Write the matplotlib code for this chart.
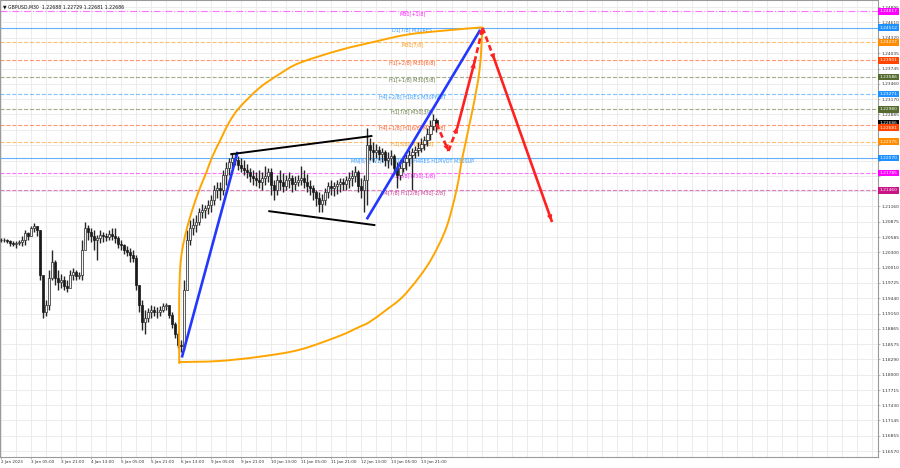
import matplotlib
matplotlib.use("Agg")
import matplotlib.pyplot as plt
import matplotlib.transforms as mtransforms
from matplotlib.path import Path
from matplotlib.patches import PathPatch
import numpy as np

# GBPUSD M30, one candle slot = ~3.2 bars of 30 min
high = [1.2057, 1.2057, 1.2055, 1.2053, 1.2051, 1.2051, 1.2053, 1.2060, 1.2072, 1.2068,
        1.2079, 1.2085, 1.2079, 1.2072, 1.1978, 1.1940, 1.1997, 1.2034, 1.2015, 1.1997,
        1.1989, 1.1985, 1.1978, 1.1997, 1.2000, 1.1997, 1.1993, 1.2053, 1.2087, 1.2081,
        1.2075, 1.2072, 1.2062, 1.2072, 1.2068, 1.2066, 1.2072, 1.2075, 1.2075, 1.2060,
        1.2053, 1.2045, 1.2042, 1.2038, 1.2034, 1.2025, 1.1969, 1.1940, 1.1922, 1.1925,
        1.1931, 1.1929, 1.1927, 1.1929, 1.1935, 1.1935, 1.1931, 1.1918, 1.1899, 1.1880,
        1.1865, 1.1978, 1.2072, 1.2091, 1.2094, 1.2100, 1.2113, 1.2121, 1.2119, 1.2128,
        1.2137, 1.2156, 1.2162, 1.2162, 1.2184, 1.2199, 1.2207, 1.2214, 1.2216, 1.2211,
        1.2207, 1.2203, 1.2196, 1.2188, 1.2184, 1.2181, 1.2184, 1.2181, 1.2192, 1.2188,
        1.2188, 1.2166, 1.2175, 1.2184, 1.2179, 1.2175, 1.2181, 1.2175, 1.2173, 1.2175,
        1.2192, 1.2184, 1.2177, 1.2166, 1.2156, 1.2147, 1.2143, 1.2139, 1.2151, 1.2162,
        1.2166, 1.2162, 1.2166, 1.2169, 1.2169, 1.2173, 1.2181, 1.2184, 1.2192, 1.2184,
        1.2169, 1.2175, 1.2263, 1.2244, 1.2237, 1.2233, 1.2229, 1.2226, 1.2222, 1.2218,
        1.2222, 1.2214, 1.2199, 1.2203, 1.2211, 1.2214, 1.2222, 1.2226, 1.2229, 1.2237,
        1.2244, 1.2248, 1.2263, 1.2278, 1.2289, 1.2282]
low = [1.2049, 1.2049, 1.2047, 1.2042, 1.2042, 1.2038, 1.2044, 1.2042, 1.2044, 1.2053,
       1.2060, 1.2068, 1.2060, 1.1978, 1.1907, 1.1910, 1.1922, 1.1978, 1.1969, 1.1959,
       1.1963, 1.1959, 1.1955, 1.1970, 1.1978, 1.1978, 1.1980, 1.1978, 1.2044, 1.2053,
       1.2049, 1.2034, 1.2015, 1.2047, 1.2049, 1.2051, 1.2053, 1.2053, 1.2047, 1.2038,
       1.2034, 1.2027, 1.2023, 1.2012, 1.2012, 1.1959, 1.1918, 1.1884, 1.1877, 1.1899,
       1.1907, 1.1910, 1.1907, 1.1910, 1.1918, 1.1922, 1.1907, 1.1888, 1.1869, 1.1850,
       1.1843, 1.1847, 1.1959, 1.2044, 1.2062, 1.2068, 1.2081, 1.2094, 1.2094, 1.2102,
       1.2106, 1.2119, 1.2132, 1.2128, 1.2137, 1.2156, 1.2175, 1.2188, 1.2194, 1.2184,
       1.2181, 1.2175, 1.2169, 1.2162, 1.2156, 1.2154, 1.2151, 1.2147, 1.2156, 1.2162,
       1.2137, 1.2128, 1.2137, 1.2147, 1.2143, 1.2147, 1.2151, 1.2143, 1.2147, 1.2154,
       1.2156, 1.2151, 1.2143, 1.2137, 1.2128, 1.2117, 1.2106, 1.2106, 1.2119, 1.2132,
       1.2137, 1.2136, 1.2139, 1.2143, 1.2147, 1.2147, 1.2151, 1.2154, 1.2162, 1.2143,
       1.2132, 1.2106, 1.2119, 1.2203, 1.2199, 1.2207, 1.2203, 1.2199, 1.2192, 1.2188,
       1.2194, 1.2181, 1.2151, 1.2166, 1.2181, 1.2184, 1.2192, 1.2147, 1.2207, 1.2211,
       1.2218, 1.2222, 1.2229, 1.2241, 1.2259, 1.2256]
close = [1.2053, 1.2053, 1.2051, 1.2047, 1.2045, 1.2047, 1.2049, 1.2053, 1.2066, 1.2060,
         1.2075, 1.2079, 1.2072, 1.1987, 1.1918, 1.1931, 1.1982, 1.2012, 1.1982, 1.1974,
         1.1978, 1.1967, 1.1963, 1.1987, 1.1993, 1.1985, 1.1987, 1.2034, 1.2075, 1.2068,
         1.2060, 1.2053, 1.2057, 1.2062, 1.2060, 1.2058, 1.2064, 1.2060, 1.2057, 1.2045,
         1.2044, 1.2034, 1.2030, 1.2025, 1.2019, 1.1969, 1.1931, 1.1899, 1.1907, 1.1918,
         1.1922, 1.1918, 1.1918, 1.1922, 1.1929, 1.1931, 1.1912, 1.1895, 1.1877, 1.1856,
         1.1854, 1.1959, 1.2053, 1.2075, 1.2081, 1.2087, 1.2106, 1.2109, 1.2113, 1.2119,
         1.2128, 1.2147, 1.2151, 1.2147, 1.2175, 1.2188, 1.2199, 1.2207, 1.2203, 1.2194,
         1.2188, 1.2184, 1.2181, 1.2173, 1.2169, 1.2166, 1.2162, 1.2169, 1.2173, 1.2181,
         1.2156, 1.2147, 1.2166, 1.2162, 1.2154, 1.2166, 1.2169, 1.2158, 1.2162, 1.2166,
         1.2169, 1.2162, 1.2154, 1.2151, 1.2143, 1.2132, 1.2121, 1.2128, 1.2143, 1.2154,
         1.2151, 1.2154, 1.2158, 1.2162, 1.2158, 1.2166, 1.2169, 1.2173, 1.2181, 1.2154,
         1.2147, 1.2166, 1.2231, 1.2222, 1.2218, 1.2222, 1.2214, 1.2218, 1.2203, 1.2207,
         1.2211, 1.2188, 1.2175, 1.2188, 1.2199, 1.2207, 1.2212, 1.2218, 1.2222, 1.2226,
         1.2233, 1.2241, 1.2252, 1.2267, 1.2278, 1.2269]

time_labels = ["2 Jan 2023", "3 Jan 05:00", "3 Jan 21:00", "4 Jan 13:00", "5 Jan 05:00",
               "5 Jan 21:00", "6 Jan 13:00", "9 Jan 05:00", "9 Jan 21:00", "10 Jan 13:00",
               "11 Jan 05:00", "11 Jan 21:00", "12 Jan 13:00", "13 Jan 05:00", "13 Jan 21:00"]

price_ticks = [1.24895, 1.24610, 1.24320, 1.24035, 1.23745, 1.23460, 1.23170, 1.22885,
               1.22595, 1.22305, 1.22020, 1.21730, 1.21445, 1.21160, 1.20875, 1.20585,
               1.20300, 1.20010, 1.19725, 1.19440, 1.19150, 1.18865, 1.18575, 1.18290,
               1.18000, 1.17715, 1.17430, 1.17145, 1.16855, 1.16570]
hidden_ticks = [1.22305, 1.22020, 1.21730, 1.21445]  # covered by the level tags

# murrey math style levels
level_prices = [1.24817, 1.24512, 1.24237, 1.23901, 1.23586, 1.23271,
                1.22980, 1.22681, 1.22375, 1.22070, 1.21785, 1.21460]
level_labels = ["M30[+1/8]", "D1[7/8] M30RES", "M30[7/8]", "H1[+2/8] M30[6/8]",
                "H1[+1/8] M30[5/8]", "H4[+2/8] H1RES M30PIVOT", "H1[7/8] M30[3/8]",
                "H4[+1/8] H1[6/8] M30[2/8]", "H1[5/8] M30[1/8]",
                "MN[8/8] W1[7/8] D1[6/8] H4RES H1PIVOT M30SUP",
                "H1[3/8] M30[-1/8]", "H4[7/8] H1[2/8] M30[-2/8]"]
level_colors = ["#ff00ff", "#1e90ff", "#ff8c00", "#ff4500", "#556b2f", "#1e90ff",
                "#556b2f", "#ff4500", "#ff8c00", "#1e90ff", "#ff00ff", "#c71585"]
level_styles = ["-.", "-", "--", "--", "--", "--", "--", "--", "--", "-", "--", "--"]

last_price = 1.22686
header = "GBPUSD,M30  1.22688 1.22729 1.22681 1.22686"

# drawn objects (slot, price)
arc_up_t = [59.5, 59.33, 59.33, 59.67, 60.33, 61, 62, 63.67, 66, 68.33, 70.33, 73.33, 76,
            79.33, 86, 92.67, 99.33, 112.67, 123.67, 135, 146, 160.33]
arc_up_p = [1.1824, 1.1832, 1.1940, 1.2002, 1.2034, 1.2053, 1.2077, 1.2109, 1.2147, 1.2179,
            1.2209, 1.2244, 1.2274, 1.2301, 1.2338, 1.2364, 1.2385, 1.2409, 1.2424, 1.2438,
            1.2445, 1.2452]
arc_dn_t = [59.5, 72.67, 86, 99.33, 112.67, 119.33, 122.67, 128.33, 133.67, 139.33, 143.67,
            148.33, 151.67, 153.67, 157, 159.33, 160.33]
arc_dn_p = [1.1824, 1.1826, 1.1834, 1.1847, 1.1873, 1.1890, 1.1899, 1.1922, 1.1946, 1.1984,
            1.2021, 1.2077, 1.2147, 1.2209, 1.2297, 1.2372, 1.2452]
blue_t = [[60.33, 78.67], [122, 159.33]]
blue_p = [[1.1835, 1.2216], [1.2094, 1.2445]]
black_t = [[76.67, 123.33], [89.33, 124.33]]
black_p = [[1.2214, 1.2248], [1.2107, 1.2081]]
path_t = [145, 149, 152, 157.67, 160.33, 164.33, 183.33]
path_p = [1.2271, 1.2220, 1.2265, 1.2387, 1.2451, 1.2391, 1.2089]
path_dashed = [True, True, False, True, True, False]


def smooth_curve(ax, tt, pp, **kw):
    # catmull-rom through the picked points, drawn as cubic bezier pieces
    pts = np.column_stack([tt, pp])
    ext = np.vstack([pts[0], pts, pts[-1]])
    verts = [pts[0]]
    codes = [Path.MOVETO]
    for i in range(1, len(ext) - 2):
        p0, p1, p2, p3 = ext[i - 1], ext[i], ext[i + 1], ext[i + 2]
        verts += [p1 + (p2 - p0) / 6, p2 - (p3 - p1) / 6, p2]
        codes += [Path.CURVE4] * 3
    ax.add_patch(PathPatch(Path(verts, codes), fill=False, **kw))


fig = plt.figure(figsize=(9, 4.68), dpi=100)
ax = fig.add_axes([0, 11 / 468, 878 / 900, 457 / 468])
ax.set_xlim(-0.33, 292)
ax.set_ylim(1.16459, 1.25032)

for s in ax.spines.values():
    s.set_color("#9a9a9a")
    s.set_linewidth(0.8)

# grid
for t in np.arange(0, 292, 5):
    ax.axvline(t, color="#e9e9e9", lw=0.6, zorder=0)
for p in price_ticks:
    ax.axhline(p, color="#e9e9e9", lw=0.6, zorder=0)

# candles
x = np.arange(len(close))
opens = np.r_[close[0], close[:-1]]
cl = np.array(close)
ax.vlines(x, low, high, color="#262626", lw=1.0, zorder=3)
up = cl >= opens
ax.bar(x[up], (cl - opens)[up], bottom=opens[up], width=0.7, color="#f4f4f4",
       edgecolor="#262626", lw=0.5, zorder=4)
ax.bar(x[~up], (opens - cl)[~up], bottom=cl[~up], width=0.7, color="#1a1a1a",
       edgecolor="#1a1a1a", lw=0.5, zorder=4)

# levels
for p, lab, c, ls in zip(level_prices, level_labels, level_colors, level_styles):
    ax.axhline(p, color=c, lw=0.8, ls=ls, alpha=0.55 if ls != "-" else 0.7, zorder=1)
    ax.text(137, p, lab, ha="center", va="top", fontsize=3.5, color=c, alpha=0.9, zorder=2)

# drawings
smooth_curve(ax, arc_up_t, arc_up_p, edgecolor="#ffa500", lw=1.4, zorder=5)
smooth_curve(ax, arc_dn_t, arc_dn_p, edgecolor="#ffa500", lw=1.4, zorder=5)
for tt, pp in zip(blue_t, blue_p):
    ax.plot(tt, pp, color="#2238ff", lw=1.9, zorder=6)
for tt, pp in zip(black_t, black_p):
    ax.plot(tt, pp, color="black", lw=1.4, zorder=6)
for i, dashed in enumerate(path_dashed):
    seg_t = path_t[i:i + 2]
    seg_p = path_p[i:i + 2]
    ax.plot(seg_t, seg_p, color="#ff2020", lw=1.9, ls=(0, (2.2, 1.3)) if dashed else "-",
            zorder=7)
    ax.annotate("", xy=(seg_t[1], seg_p[1]), xytext=(seg_t[0], seg_p[0]),
                arrowprops=dict(arrowstyle="-|>,head_length=0.45,head_width=0.2",
                                color="#ff2020", lw=0, shrinkA=0, shrinkB=0), zorder=8)

# axes ticks
ax.set_xticks(np.arange(0, 150, 10))
ax.set_xticklabels(time_labels, ha="left", fontsize=3.0, color="#333333")
ax.yaxis.tick_right()
ax.set_yticks(price_ticks)
ax.set_yticklabels(["" if p in hidden_ticks else f"{p:.5f}" for p in price_ticks],
                   fontsize=3.2, color="#333333")
ax.tick_params(axis="both", length=1.5, width=0.5, color="#9a9a9a", pad=1)

# price tags on right scale
trans = mtransforms.blended_transform_factory(ax.transAxes, ax.transData)
for p, c in zip(level_prices, level_colors):
    dy = -1.6 if p == 1.22681 else 0
    ax.annotate(f"{p:.5f}", xy=(1, p), xycoords=trans, xytext=(1.2, dy),
                textcoords="offset points", ha="left", va="center", fontsize=3.2,
                color="white", annotation_clip=False, zorder=10,
                bbox=dict(boxstyle="square,pad=0.3", fc=c, ec="none"))
ax.annotate(f"{last_price:.5f}", xy=(1, last_price), xycoords=trans, xytext=(1.2, 1.6),
            textcoords="offset points", ha="left", va="center", fontsize=3.2,
            color="white", annotation_clip=False, zorder=9,
            bbox=dict(boxstyle="square,pad=0.3", fc="black", ec="none"))

fig.text(3 / 900, 1 - 7 / 468, "\u25bc " + header, fontsize=3.3, va="center", color="#111111")

fig.savefig("out.png", dpi=100, facecolor="white")
